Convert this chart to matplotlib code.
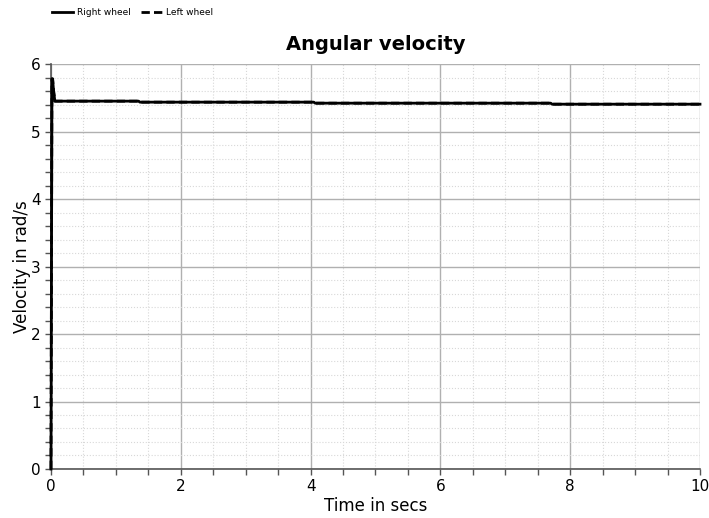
import numpy as np
import matplotlib.pyplot as plt
from matplotlib.ticker import MultipleLocator

# time (s) and wheel angular velocity (rad/s)
time = [0, 0.015, 0.025, 0.04, 0.06, 1.35, 1.37, 4.05, 4.07, 7.7, 7.72, 10]
right_wheel = [0, 5.78, 5.78, 5.6, 5.45, 5.45, 5.435, 5.435, 5.42, 5.42, 5.405, 5.405]
left_wheel = [0, 5.78, 5.78, 5.6, 5.45, 5.45, 5.435, 5.435, 5.42, 5.42, 5.405, 5.405]

fig = plt.figure(figsize=(7.09, 5.18), dpi=100)
ax = fig.add_axes([0.0719, 0.0946, 0.9154, 0.7818])

ax.plot(time, right_wheel, color='black', lw=2, ls='-', label='Right wheel',
        zorder=3, clip_on=False)
ax.plot(time, left_wheel, color='black', lw=2, ls=(0, (3, 1.5)), label='Left wheel',
        zorder=3, clip_on=False)

ax.set_xlim(0, 10)
ax.set_ylim(0, 6)
ax.xaxis.set_major_locator(MultipleLocator(2))
ax.xaxis.set_minor_locator(MultipleLocator(0.5))
ax.yaxis.set_major_locator(MultipleLocator(1))
ax.yaxis.set_minor_locator(MultipleLocator(0.2))

ax.grid(which='major', color='#b0b0b0', lw=1, ls='-')
ax.grid(which='minor', color='#d8d8d8', lw=0.8, ls=':')
ax.set_axisbelow(True)

for s in ['top', 'right']:
    ax.spines[s].set_visible(False)
for s in ['left', 'bottom']:
    ax.spines[s].set_color('#555555')
    ax.spines[s].set_linewidth(1.2)

ax.tick_params(which='both', direction='out', color='#555555', length=4, width=1)
ax.tick_params(which='major', labelsize=11)

ax.set_xlabel('Time in secs', fontsize=12, labelpad=2)
ax.set_ylabel('Velocity in rad/s', fontsize=12, labelpad=0)
ax.set_title('Angular velocity', fontsize=14, fontweight='bold', pad=10)

fig.legend(loc='upper left', bbox_to_anchor=(0.062, 1.0), ncol=2, frameon=False,
           fontsize=6.5, handlelength=2.3, handletextpad=0.5, columnspacing=1.1)

fig.savefig('out.png', dpi=100)
